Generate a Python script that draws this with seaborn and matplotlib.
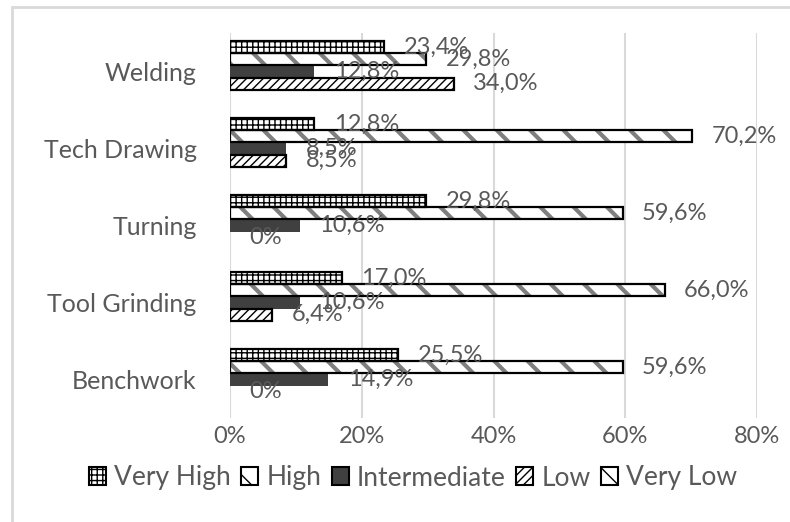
import numpy as np
import pandas as pd
import seaborn as sns
import matplotlib.pyplot as plt
from matplotlib.patches import Rectangle, Patch
from matplotlib.ticker import FuncFormatter

# ===== data: share of answers per skill (%) =====
skills = ["Welding", "Tech Drawing", "Turning", "Tool Grinding", "Benchwork"]
levels = ["Very High", "High", "Intermediate", "Low", "Very Low"]
very_high = [23.4, 12.8, 29.8, 17.0, 25.5]
high = [29.8, 70.2, 59.6, 66.0, 59.6]
intermediate = [12.8, 8.5, 10.6, 10.6, 14.9]
low = [34.0, 8.5, 0.0, 6.4, 0.0]
very_low = [np.nan, np.nan, np.nan, np.nan, np.nan]

wide = pd.DataFrame({"skill": skills, "Very High": very_high, "High": high,
                     "Intermediate": intermediate, "Low": low, "Very Low": very_low})
df = wide.melt(id_vars="skill", var_name="level", value_name="share")

# ===== bar looks (face, hatch, hatch colour) =====
looks = {
    "Very High": ("white", "+++", "black"),
    "High": ("white", "\\", "#7f7f7f"),
    "Intermediate": ("#404040", "", "#404040"),
    "Low": ("white", "////", "black"),
    "Very Low": ("white", "\\\\", "black"),
}
grey_txt = "#595959"

sns.set_style("white")
plt.rcParams["font.family"] = ["Lato", "DejaVu Sans"]
plt.rcParams["hatch.linewidth"] = 1.0

fig = plt.figure(figsize=(7.9, 5.22), dpi=100)
ax = fig.add_axes([230 / 790, 1 - 418 / 522, 527 / 790, 385 / 522])

sns.barplot(data=df, y="skill", x="share", hue="level", order=skills,
            hue_order=levels, orient="h", width=0.78, dodge=True,
            errorbar=None, saturation=1, legend=False, ax=ax)

def fmt(v):
    if v == 0:
        return "0%"
    return f"{v:.1f}%".replace(".", ",")

for i, cont in enumerate(ax.containers):
    lab = cont.get_label()
    lvl = lab if lab in looks else levels[i]
    face, hatch, hcol = looks[lvl]
    for bar, v in zip(cont.patches, cont.datavalues):
        if not np.isfinite(v):
            continue
        if v > 0:
            bar.set_facecolor(face)
            bar.set_hatch(hatch)
            bar.set_edgecolor(hcol)
            bar.set_linewidth(0)
            if lvl == "High" and hasattr(bar, "set_hatch_linewidth"):
                bar.set_hatch_linewidth(3)
            if lvl != "Intermediate":
                ax.add_patch(Rectangle(bar.get_xy(), bar.get_width(), bar.get_height(),
                                       fill=False, ec="black", lw=1.6, zorder=bar.get_zorder() + 0.1))
        else:
            bar.set_visible(False)
        yc = bar.get_y() + bar.get_height() / 2
        ax.annotate(fmt(v), xy=(v, yc), xytext=(14, 0), textcoords="offset points",
                    ha="left", va="center", color=grey_txt, fontsize=17)

ax.set_xlim(0, 80)
ax.set_xticks([0, 20, 40, 60, 80])
ax.xaxis.set_major_formatter(FuncFormatter(lambda x, p: f"{x:.0f}%"))
ax.xaxis.grid(True, color="#d9d9d9", lw=1.5)
ax.set_axisbelow(True)
for s in ax.spines.values():
    s.set_visible(False)
ax.tick_params(axis="y", length=0, pad=24, labelsize=18, labelcolor=grey_txt)
ax.tick_params(axis="x", length=0, pad=6, labelsize=17, labelcolor=grey_txt)
ax.set_xlabel("")
ax.set_ylabel("")

# ===== legend =====
handles = [Patch(facecolor=looks[l][0], hatch=looks[l][1], edgecolor="black", lw=1.5) for l in levels]
fig.legend(handles, levels, loc="center", bbox_to_anchor=(413 / 790, 1 - 478 / 522),
           ncol=5, frameon=False, fontsize=19, handlelength=0.65, handleheight=0.65,
           handletextpad=0.3, columnspacing=0.4, labelcolor=grey_txt)

# chart area border
fig.add_artist(Rectangle((12 / 790, -0.5), 2, 0.5 + 1 - 7 / 522, transform=fig.transFigure,
                         fill=False, ec="#d9d9d9", lw=2))

fig.savefig("out.png", dpi=100)
